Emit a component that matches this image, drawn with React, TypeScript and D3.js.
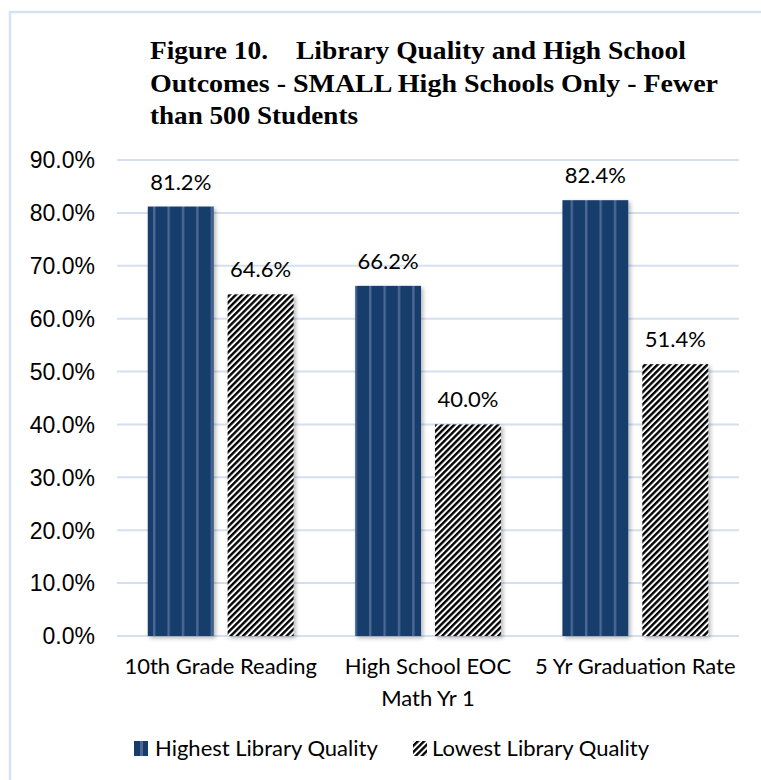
import React from "react";
import * as d3 from "d3";

const categories: string[][] = [
  ["10th Grade Reading"],
  ["High School EOC", "Math Yr 1"],
  ["5 Yr Graduation Rate"],
];
const seriesNames = ["Highest Library Quality", "Lowest Library Quality"];
const highest = [81.2, 66.2, 82.4];
const lowest = [64.6, 40.0, 51.4];
const yTicks = [0, 10, 20, 30, 40, 50, 60, 70, 80, 90];
const titleLines = [
  "Figure 10.",
  "Library Quality and High School",
  "Outcomes - SMALL High Schools Only - Fewer",
  "than 500 Students",
];

const W = 761;
const H = 780;
const plot = { left: 117, right: 739, top: 160, bottom: 636 };
const CAL = "Lato, 'Open Sans', sans-serif";

export default function App() {
  const x0 = d3
    .scaleBand<number>()
    .domain(categories.map((_, i) => i))
    .range([plot.left, plot.right])
    .paddingInner(0)
    .paddingOuter(0);
  const x1 = d3
    .scaleBand<number>()
    .domain([0, 1])
    .range([0, x0.bandwidth()])
    .paddingInner(0.175)
    .paddingOuter(0.385);
  const y = d3.scaleLinear().domain([0, 90]).range([plot.bottom, plot.top]);
  const fills = ["url(#dkVert)", "url(#hatch)"];
  const series = [highest, lowest];

  return (
    <svg
      width={W}
      height={H}
      style={{ position: "absolute", left: 0, top: 0, background: "#fff" }}
    >
      <defs>
        <pattern id="dkVert" patternUnits="userSpaceOnUse" width={14.4} height={10} x={153}>
          <rect width={14.4} height={10} fill="#173c6c" />
          <rect x={0} width={2.4} height={10} fill="#4a6894" />
        </pattern>
        <pattern id="legVert" patternUnits="userSpaceOnUse" width={14} height={10} x={140}>
          <rect width={14} height={10} fill="#173c6c" />
          <rect x={0} width={3} height={10} fill="#4a6894" />
        </pattern>
        <pattern
          id="hatch"
          patternUnits="userSpaceOnUse"
          width={4.4}
          height={4.4}
          patternTransform="rotate(45)"
        >
          <rect width={4.4} height={4.4} fill="#fff" />
          <rect width={2.4} height={4.4} fill="#000" />
        </pattern>
        <filter id="shadow" x="-10%" y="-10%" width="130%" height="130%">
          <feDropShadow dx={2} dy={2} stdDeviation={2} floodColor="#000" floodOpacity={0.3} />
        </filter>
      </defs>

      {/* frame */}
      <rect x={10} y={12} width={W + 20} height={H + 20} fill="none" stroke="#d6e2f1" strokeWidth={2.5} />

      {/* title */}
      <g fontFamily="'Liberation Serif', 'Times New Roman', serif" fontWeight="bold" fontSize={26} fill="#000">
        <text x={150} y={59} textLength={268 - 150} lengthAdjust="spacingAndGlyphs">{titleLines[0]}</text>
        <text x={296} y={59} textLength={686 - 296} lengthAdjust="spacingAndGlyphs">{titleLines[1]}</text>
        <text x={150} y={92} textLength={718 - 150} lengthAdjust="spacingAndGlyphs">{titleLines[2]}</text>
        <text x={150} y={124} textLength={358 - 150} lengthAdjust="spacingAndGlyphs">{titleLines[3]}</text>
      </g>

      {/* gridlines */}
      <g>
        {yTicks.map((t) => (
          <line
            key={t}
            x1={plot.left}
            x2={plot.right}
            y1={y(t)}
            y2={y(t)}
            stroke="#d4e0f0"
            strokeWidth={2}
          />
        ))}
      </g>

      {/* y tick labels */}
      <g fontFamily="'Liberation Sans', Arial, sans-serif" fontSize={23} fill="#000" textAnchor="end">
        {yTicks.map((t) => (
          <text key={t} x={95} y={y(t)} dy="0.36em">
            {t.toFixed(1) + "%"}
          </text>
        ))}
      </g>

      {/* bars */}
      <g filter="url(#shadow)">
        {categories.map((_, ci) =>
          series.map((s, si) => (
            <rect
              key={ci + "-" + si}
              x={(x0(ci) as number) + (x1(si) as number)}
              y={y(s[ci])}
              width={x1.bandwidth()}
              height={y(0) - y(s[ci])}
              fill={fills[si]}
            />
          ))
        )}
      </g>

      {/* value labels */}
      <g fontFamily={CAL} fontSize={22} fill="#000" textAnchor="middle">
        {categories.map((_, ci) =>
          series.map((s, si) => (
            <text
              key={ci + "-" + si}
              x={(x0(ci) as number) + (x1(si) as number) + x1.bandwidth() / 2}
              y={y(s[ci]) - 17}
            >
              {s[ci].toFixed(1) + "%"}
            </text>
          ))
        )}
      </g>

      {/* category labels */}
      <g fontFamily={CAL} fontSize={22} fill="#000" textAnchor="middle">
        {categories.map((lines, ci) =>
          lines.map((ln, li) => (
            <text key={ci + "-" + li} x={(x0(ci) as number) + x0.bandwidth() / 2} y={674 + li * 32}>
              {ln}
            </text>
          ))
        )}
      </g>

      {/* legend */}
      <g fontFamily={CAL} fontSize={22} fill="#000">
        <rect x={134} y={741} width={14} height={15} fill="url(#legVert)" />
        <text x={155} y={756}>{seriesNames[0]}</text>
        <rect x={413} y={741} width={14} height={15} fill="url(#hatch)" />
        <text x={432} y={756}>{seriesNames[1]}</text>
      </g>
    </svg>
  );
}
